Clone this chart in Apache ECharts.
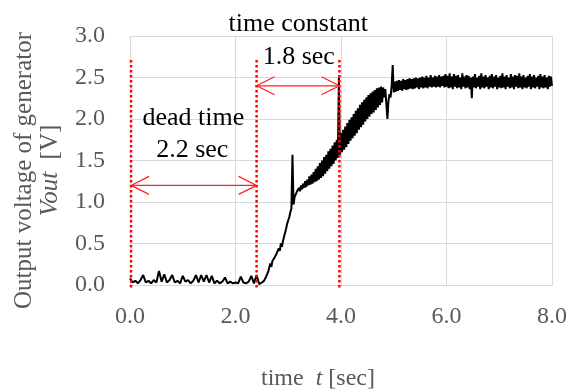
<!DOCTYPE html>
<html>
<head>
<meta charset="utf-8">
<script src="https://cdn.jsdelivr.net/npm/echarts@6/dist/echarts.min.js"></script>
<style>html,body{margin:0;padding:0;background:#fff}#c{width:566px;height:389px}</style>
</head>
<body>
<div id="c"></div>
<script>
// x ticks and y ticks
var xTicks = [0, 2, 4, 6, 8];
var yTicks = [0, 0.5, 1, 1.5, 2, 2.5, 3];

// measured signal, sampled in three segments (start time, step, values)
var deadStart = 0.00, deadStep = 0.05;
var deadValues = [0.08,0.03,0.05,0.02,0.06,0.12,0.03,0.05,0.02,0.06,
  0.03,0.17,0.04,0.13,0.03,0.06,0.12,0.03,0.05,0.02,
  0.11,0.04,0.06,0.02,0.05,0.12,0.03,0.12,0.04,0.12,
  0.03,0.11,0.02,0.05,0.02,0.04,0.09,0.02,0.04,0.02,
  0.03,0.02,0.10,0.03,0.02,0.04,0.11,0.02,0.12,0.01,0.03];

var riseStart = 2.52, riseStep = 0.02;
var riseValues = [0.02,0.05,0.04,0.10,0.12,0.16,0.18,0.26,0.22,0.29,
  0.30,0.33,0.35,0.38,0.40,0.44,0.41,0.50,0.46,0.53,
  0.58,0.63,0.68,0.74,0.78,0.82,0.88,0.92,1.57,0.97,
  1.06,1.04,1.12,1.10,1.17,1.13,1.20,1.15,1.22,1.17,
  1.25,1.18,1.27,1.20,
  1.31,1.21,1.33,1.22,1.36,1.24,1.40,1.25,1.43,1.27,
  1.47,1.29,1.50,1.31,1.54,1.34,1.57,1.37,1.61,1.40,
  1.64,1.43,1.68,1.46,1.72,1.50,1.75,1.53,2.50,1.57,
  1.83,1.60,1.87,1.63,1.91,1.66,1.95,1.70,1.99,1.74,
  2.02,1.77,2.06,1.80,2.10,1.83,2.13,1.87,2.17,1.90,
  2.20,1.93,2.23,1.97,2.26,2.00,2.29,2.03,2.31,2.06,
  2.33,2.08,2.35,2.11,2.37,2.14,2.38,2.17,2.39,2.20,
  2.38,
  2.26,2.36,2.18,2.00,2.22,2.30,2.26,2.40,2.65,2.32];

var plateauStart = 5.02, plateauStep = 0.02;
var plateauValues = [2.45,2.33,2.46,2.34,2.47,2.35,2.46,2.34,2.48,2.36,
  2.47,2.35,2.48,2.36,2.49,2.37,2.48,2.36,2.49,2.37,
  2.50,2.38,2.49,2.36,2.50,2.38,2.51,2.37,2.50,2.38,
  2.52,2.37,2.50,2.39,2.53,2.38,2.50,2.39,2.52,2.38,
  2.51,2.39,2.53,2.38,2.51,2.40,2.52,2.38,2.54,2.39,
  2.52,2.37,2.55,2.38,2.51,2.36,2.54,2.39,2.52,2.37,
  2.53,2.38,2.50,2.36,2.55,2.39,2.51,2.37,2.53,2.38,
  2.52,2.36,2.50,2.25,2.51,2.38,2.54,2.37,2.50,2.39,
  2.52,2.36,2.55,2.38,2.51,2.37,2.53,2.39,2.50,2.36,
  2.52,2.38,2.54,2.37,2.51,2.39,2.53,2.36,2.50,2.38,
  2.52,2.37,2.55,2.38,2.51,2.36,2.53,2.39,2.50,2.37,
  2.54,2.38,2.51,2.36,2.53,2.39,2.52,2.37,2.55,2.38,
  2.51,2.36,2.53,2.38,2.50,2.37,2.52,2.39,2.54,2.36,
  2.51,2.38,2.53,2.37,2.50,2.39,2.52,2.36,2.54,2.38,
  2.51,2.37,2.53,2.38,2.50,2.36,2.52,2.39,2.51,2.40];

// annotation markers
var markerTimes = [0.02, 2.40, 3.97];
var markerTop = 2.72, markerBottom = -0.03;
var arrows = [[0.02, 2.40, 1.20], [2.40, 3.97, 2.40]];
var labelTexts = ['time constant', '1.8 sec', 'dead time', '2.2 sec'];
var labelX = [3.19, 3.20, 1.20, 1.18];
var labelY = [3.14, 2.75, 2.01, 1.63];

function seg(t0, dt, vals) {
  return vals.map(function (v, i) { return [+(t0 + i * dt).toFixed(2), v]; });
}
var signal = [].concat(seg(deadStart, deadStep, deadValues),
  seg(riseStart, riseStep, riseValues),
  seg(plateauStart, plateauStep, plateauValues));

var FONT = 'Liberation Serif';
var series = [{
  type: 'line', data: signal, showSymbol: false, symbol: 'none',
  lineStyle: { color: '#000', width: 2 }, z: 3, animation: false
}];
markerTimes.forEach(function (t) {
  series.push({
    type: 'line', data: [[t, markerBottom], [t, markerTop]], symbol: 'none', clip: false,
    lineStyle: { color: '#ff0000', width: 2.5, type: [2.5, 2.5] }, z: 4, animation: false
  });
});
series.push({
  type: 'custom', data: arrows, encode: { x: [0, 1], y: 2 }, clip: false, z: 5, animation: false,
  renderItem: function (params, api) {
    var a = api.coord([api.value(0), api.value(2)]);
    var b = api.coord([api.value(1), api.value(2)]);
    var st = { stroke: '#ff2020', lineWidth: 1.2, fill: null };
    return { type: 'group', children: [
      { type: 'line', shape: { x1: a[0], y1: a[1], x2: b[0], y2: b[1] }, style: st },
      { type: 'polyline', shape: { points: [[a[0] + 18, a[1] - 9], [a[0], a[1]], [a[0] + 18, a[1] + 9]] }, style: st },
      { type: 'polyline', shape: { points: [[b[0] - 18, b[1] - 9], [b[0], b[1]], [b[0] - 18, b[1] + 9]] }, style: st }
    ] };
  }
});
series.push({
  type: 'custom', data: labelTexts.map(function (s, i) { return [labelX[i], labelY[i], s]; }),
  clip: false, z: 6, animation: false,
  renderItem: function (params, api) {
    var p = api.coord([api.value(0), api.value(1)]);
    return { type: 'text', x: p[0], y: p[1], style: {
      text: labelTexts[params.dataIndex], fill: '#000', font: '26px "' + FONT + '"',
      align: 'center', verticalAlign: 'middle', textAlign: 'center', textVerticalAlign: 'middle' } };
  }
});

var chart = echarts.init(document.getElementById('c'), null, { renderer: 'canvas' });
chart.setOption({
  animation: false,
  grid: { left: 130, right: 14, top: 36, bottom: 104, containLabel: false, outerBoundsMode: 'none' },
  xAxis: {
    type: 'value', min: xTicks[0], max: xTicks[xTicks.length - 1], interval: 2,
    axisLine: { show: true, lineStyle: { color: '#d9d9d9' } }, axisTick: { show: false },
    splitLine: { show: true, lineStyle: { color: '#d9d9d9', width: 1 } },
    axisLabel: { color: '#595959', fontFamily: FONT, fontSize: 24, margin: 20,
      formatter: function (v) { return v.toFixed(1); } },
    name: '{n|time  }{i|t}{n| [sec]}', nameLocation: 'middle', nameGap: 82,
    nameTextStyle: { padding: [0, 46, 0, 0],
      rich: { n: { fontFamily: FONT, fontSize: 24, color: '#595959' },
              i: { fontFamily: FONT, fontSize: 24, color: '#595959', fontStyle: 'italic' } } }
  },
  yAxis: {
    type: 'value', min: yTicks[0], max: yTicks[yTicks.length - 1], interval: 0.5,
    axisLine: { show: false }, axisTick: { show: false },
    splitLine: { show: true, lineStyle: { color: '#d9d9d9', width: 1 } },
    axisLabel: { color: '#595959', fontFamily: FONT, fontSize: 24, margin: 25,
      formatter: function (v) { return v.toFixed(1); } },
    name: '{n|Output voltage of generator}\n{i|Vout}{n|  [V]}', nameLocation: 'middle', nameGap: 67, nameRotate: 90,
    nameTextStyle: { align: 'center', padding: [0, 20, 0, 0],
      rich: { n: { fontFamily: FONT, fontSize: 25, color: '#595959', lineHeight: 26, align: 'center' },
              i: { fontFamily: FONT, fontSize: 25, color: '#595959', fontStyle: 'italic', lineHeight: 26 } } }
  },
  series: series
});
</script>
</body>
</html>
